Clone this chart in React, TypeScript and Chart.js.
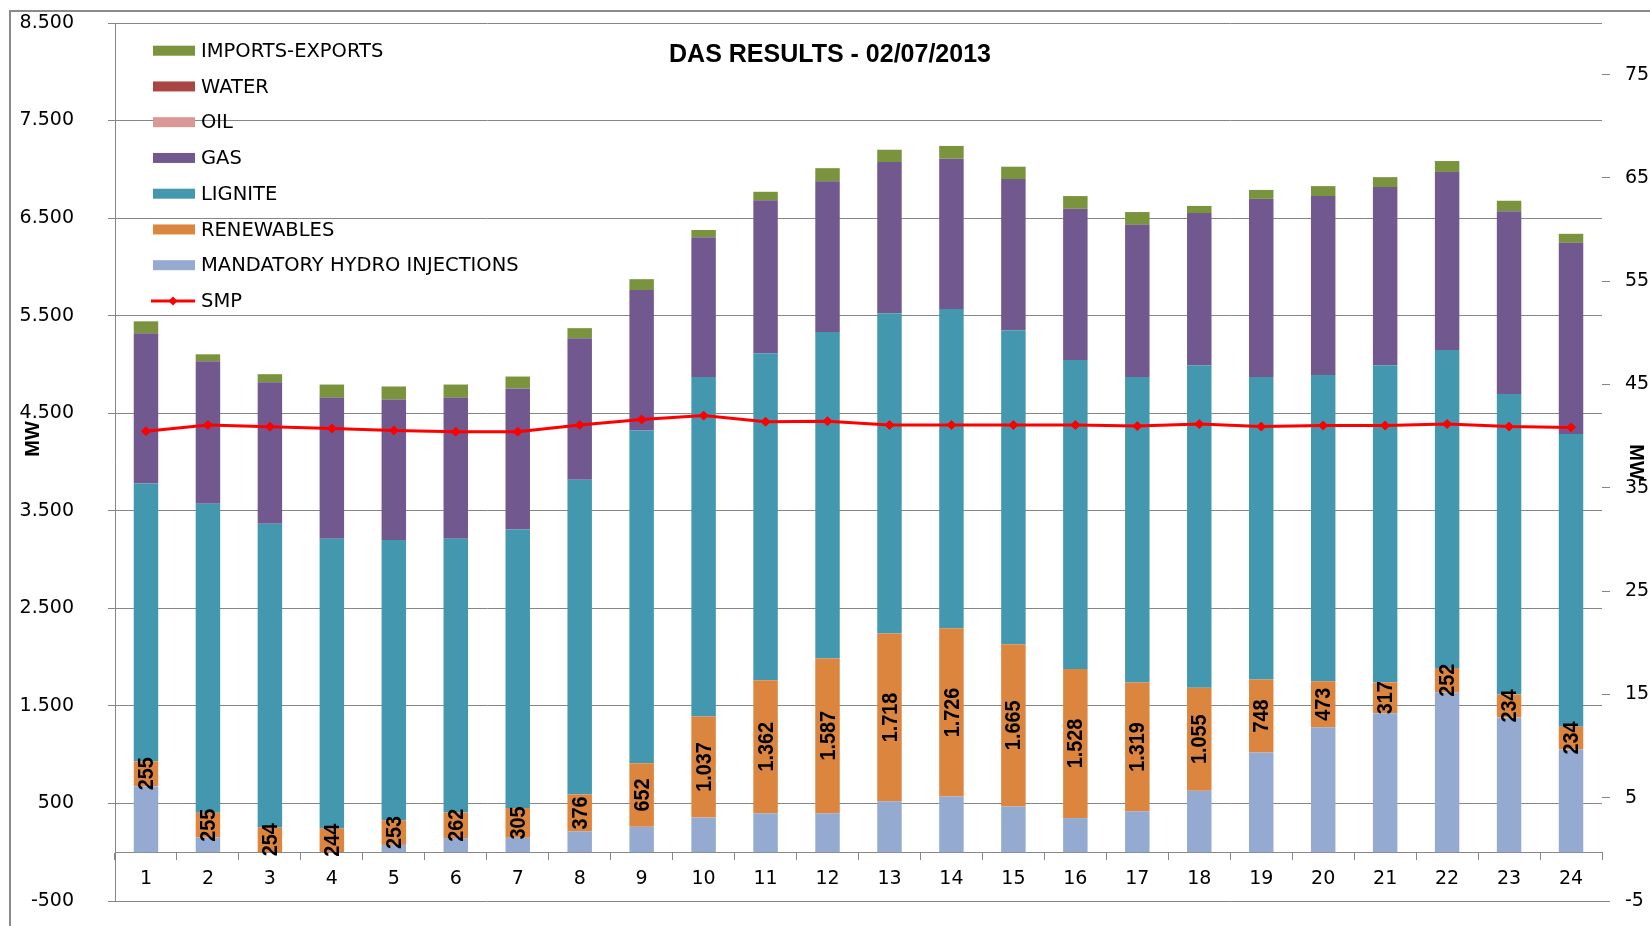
import React, { useEffect, useRef } from 'react';
import { Chart, registerables } from 'chart.js';

Chart.register(...registerables);

// ---------- data ----------
const HOURS = ['1', '2', '3', '4', '5', '6', '7', '8', '9', '10', '11', '12', '13', '14', '15', '16', '17', '18', '19', '20', '21', '22', '23', '24'];

const HYDRO = [677, 150, 0, 0, 75, 145, 148, 215, 260, 355, 400, 400, 523, 570, 468, 350, 420, 630, 1022, 1280, 1425, 1637, 1382, 1053];
const RENEWABLES = [255, 255, 254, 244, 253, 262, 305, 376, 652, 1037, 1362, 1587, 1718, 1726, 1665, 1528, 1319, 1055, 748, 473, 317, 252, 234, 234];
const LIGNITE = [2847, 3166, 3112, 2969, 2873, 2806, 2854, 3227, 3412, 3480, 3352, 3345, 3284, 3273, 3218, 3168, 3133, 3308, 3102, 3138, 3251, 3259, 3081, 2999];
const GAS = [1541, 1462, 1451, 1447, 1439, 1447, 1447, 1451, 1439, 1433, 1569, 1545, 1550, 1540, 1550, 1550, 1559, 1559, 1825, 1835, 1825, 1825, 1874, 1961];
const OIL = [0, 0, 0, 0, 0, 0, 0, 0, 0, 0, 0, 0, 0, 0, 0, 0, 0, 0, 0, 0, 0, 0, 0, 0];
const WATER = [0, 0, 0, 0, 0, 0, 0, 0, 0, 0, 0, 0, 0, 0, 0, 0, 0, 0, 0, 0, 0, 0, 0, 0];
const IMPORTS = [122, 71, 83, 134, 134, 134, 122, 103, 111, 73, 87, 135, 126, 131, 126, 130, 131, 73, 92, 102, 102, 112, 107, 92];
const SMP = [40.48, 41.08, 40.92, 40.74, 40.56, 40.44, 40.44, 41.08, 41.62, 41.99, 41.40, 41.45, 41.08, 41.08, 41.08, 41.08, 40.98, 41.17, 40.93, 41.03, 41.03, 41.17, 40.93, 40.85];

const LEFT_MIN = -500;
const LEFT_MAX = 8500;
const LEFT_STEP = 1000;
const RIGHT_MIN = -5;
const RIGHT_MAX = 80;
const RIGHT_TICKS = [-5, 5, 15, 25, 35, 45, 55, 65, 75];

const TITLE = 'DAS RESULTS - 02/07/2013';
const AXIS_TITLE = 'MW';

// ---------- styling ----------
const GRID = '#868686';
const FONT = "'DejaVu Sans', sans-serif";

const fmt = (v: number) => {
  const s = Math.abs(Math.round(v)).toString().replace(/\B(?=(\d{3})+(?!\d))/g, '.');
  return (v < 0 ? '-' : '') + s;
};

const decorPlugin = {
  id: 'decor',
  beforeDraw(chart: any) {
    const ctx = chart.ctx;
    ctx.save();
    ctx.fillStyle = '#ffffff';
    ctx.fillRect(0, 0, chart.width, chart.height);
    ctx.fillStyle = '#8a8a8a';
    ctx.fillRect(9, 10, 2, chart.height - 10);
    ctx.fillRect(9, 10, chart.width - 9, 2);
    ctx.restore();
  },
  afterDatasetsDraw(chart: any) {
    const ctx = chart.ctx;
    chart.data.datasets.forEach((ds: any, i: number) => {
      if (!ds.showValues) return;
      const meta = chart.getDatasetMeta(i);
      meta.data.forEach((bar: any, j: number) => {
        const v = ds.data[j];
        if (!v) return;
        const cy = (bar.y + bar.base) / 2;
        ctx.save();
        ctx.translate(bar.x, cy);
        ctx.rotate(-Math.PI / 2);
        ctx.scale(0.9, 1);
        ctx.fillStyle = '#000';
        ctx.font = "bold 22px 'Liberation Sans', Arial, sans-serif";
        ctx.textAlign = 'center';
        ctx.textBaseline = 'middle';
        ctx.fillText(fmt(v), 0, 1);
        ctx.restore();
      });
    });
  },
  afterDraw(chart: any) {
    const ctx = chart.ctx;
    ctx.save();
    // title
    ctx.fillStyle = '#000';
    ctx.font = "bold 25px 'Liberation Sans', Arial, sans-serif";
    ctx.textAlign = 'center';
    ctx.textBaseline = 'alphabetic';
    ctx.fillText(TITLE, 830, 62);

    // axis titles
    ctx.font = "bold 20px 'Liberation Sans', Arial, sans-serif";
    ctx.textBaseline = 'middle';
    ctx.save();
    ctx.translate(33, 439);
    ctx.rotate(-Math.PI / 2);
    ctx.fillText(AXIS_TITLE, 0, 0);
    ctx.restore();
    ctx.save();
    ctx.translate(1636, 462);
    ctx.rotate(Math.PI / 2);
    ctx.fillText(AXIS_TITLE, 0, 0);
    ctx.restore();

    // legend
    const datasets = chart.data.datasets;
    const bars = datasets.filter((d: any) => d.type !== 'line').slice().reverse();
    const lines = datasets.filter((d: any) => d.type === 'line');
    const items = bars.concat(lines);
    ctx.font = `19.5px ${FONT}`;
    ctx.textAlign = 'left';
    ctx.textBaseline = 'middle';
    items.forEach((d: any, i: number) => {
      const yc = 50.7 + i * 35.75;
      if (d.type === 'line') {
        ctx.strokeStyle = d.borderColor;
        ctx.lineWidth = 3;
        ctx.beginPath();
        ctx.moveTo(151, yc);
        ctx.lineTo(195, yc);
        ctx.stroke();
        ctx.fillStyle = d.borderColor;
        ctx.beginPath();
        ctx.moveTo(173, yc - 4.5);
        ctx.lineTo(177.5, yc);
        ctx.lineTo(173, yc + 4.5);
        ctx.lineTo(168.5, yc);
        ctx.closePath();
        ctx.fill();
      } else {
        ctx.fillStyle = d.backgroundColor;
        ctx.fillRect(153, yc - 5, 42, 10);
      }
      ctx.fillStyle = '#000';
      ctx.fillText(d.label, 201, yc + 1);
    });
    ctx.restore();
  },
};

export default function App() {
  const ref = useRef<HTMLCanvasElement | null>(null);

  useEffect(() => {
    document.body.style.margin = '0';
    const canvas = ref.current;
    if (!canvas) return;
    const barBase = { barPercentage: 0.395, categoryPercentage: 1.0, borderWidth: 0, order: 1, yAxisID: 'y' };
    const noPad = (s: any) => { s.paddingTop = 0; s.paddingBottom = 0; s.paddingLeft = 0; s.paddingRight = 0; };
    const chart = new Chart(canvas, {
      type: 'bar',
      data: {
        labels: HOURS,
        datasets: [
          { ...barBase, type: 'bar', label: 'MANDATORY HYDRO INJECTIONS', data: HYDRO, backgroundColor: '#95AAD0' },
          { ...barBase, type: 'bar', label: 'RENEWABLES', data: RENEWABLES, backgroundColor: '#DC853F', showValues: true },
          { ...barBase, type: 'bar', label: 'LIGNITE', data: LIGNITE, backgroundColor: '#4398AF' },
          { ...barBase, type: 'bar', label: 'GAS', data: GAS, backgroundColor: '#71598F' },
          { ...barBase, type: 'bar', label: 'OIL', data: OIL, backgroundColor: '#D99795' },
          { ...barBase, type: 'bar', label: 'WATER', data: WATER, backgroundColor: '#A94542' },
          { ...barBase, type: 'bar', label: 'IMPORTS-EXPORTS', data: IMPORTS, backgroundColor: '#79943D' },
          {
            type: 'line', label: 'SMP', data: SMP, yAxisID: 'y1', order: 0,
            borderColor: '#FF0000', backgroundColor: '#FF0000', borderWidth: 3, tension: 0,
            pointStyle: 'rectRot', pointRadius: 4.5, pointBackgroundColor: '#FF0000', pointBorderColor: '#FF0000', pointBorderWidth: 1,
          },
        ] as any,
      },
      options: {
        responsive: false,
        animation: false,
        devicePixelRatio: 1,
        layout: { padding: { left: 10, right: 0, top: 23, bottom: 25 } },
        plugins: {
          legend: { display: false },
          title: { display: false },
          tooltip: { enabled: false },
        },
        scales: {
          x: {
            type: 'category',
            stacked: true,
            offset: true,
            position: { y: 0 } as any,
            grid: { display: true, drawOnChartArea: false, offset: true, tickLength: 7, color: GRID, lineWidth: 1 },
            border: { display: true, color: GRID, width: 1 },
            ticks: { color: '#000', font: { family: FONT, size: 19 }, padding: 8, maxRotation: 0, autoSkip: false },
            afterFit: noPad,
          },
          y: {
            type: 'linear',
            position: 'left',
            stacked: true,
            min: LEFT_MIN,
            max: LEFT_MAX,
            grid: { color: GRID, lineWidth: 1, tickLength: 7 },
            border: { display: true, color: GRID, width: 1 },
            ticks: { stepSize: LEFT_STEP, padding: 34, color: '#000', font: { family: FONT, size: 19 }, callback: (v: any) => fmt(Number(v)) },
            afterFit: (s: any) => { s.width = 105; noPad(s); },
          },
          y1: {
            type: 'linear',
            position: 'right',
            min: RIGHT_MIN,
            max: RIGHT_MAX,
            grid: { drawOnChartArea: false, color: GRID, lineWidth: 1, tickLength: 8 },
            border: { display: false },
            ticks: { padding: 15, color: '#000', font: { family: FONT, size: 19 } },
            afterBuildTicks: (s: any) => { s.ticks = RIGHT_TICKS.map((v) => ({ value: v })); },
            afterFit: (s: any) => { s.width = 48; noPad(s); },
          },
        } as any,
      },
      plugins: [decorPlugin],
    });
    return () => chart.destroy();
  }, []);

  return <canvas ref={ref} width={1650} height={926} style={{ display: 'block' }} />;
}
